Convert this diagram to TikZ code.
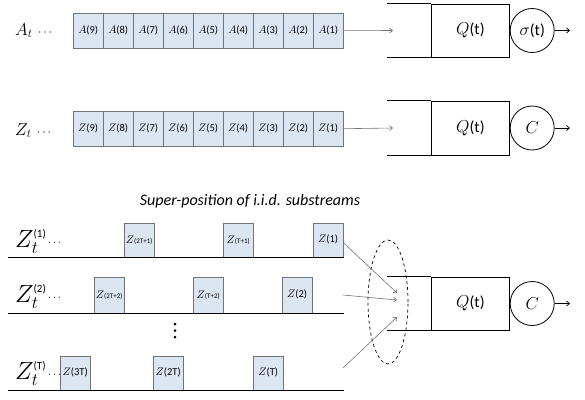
\documentclass[tikz,border=0pt]{standalone}
\usepackage{fontspec}
\setsansfont{Carlito}
\usetikzlibrary{arrows.meta,shapes.geometric}
\definecolor{cellblue}{HTML}{DCE6F2}
\definecolor{cellline}{HTML}{737373}
\begin{document}
\begin{tikzpicture}[x=1pt,y=-1pt,
  cell/.style={draw=cellline, fill=cellblue, minimum width=30pt, minimum height=35pt, inner sep=0pt, font=\sffamily\fontsize{10.5}{11}\selectfont},
  scell/.style={cell, minimum height=34pt, anchor=south west},
  feed/.style={draw=black!55, line width=0.6pt, -{Straight Barb[length=3pt,width=5pt]}},
  outarr/.style={draw=black, line width=0.7pt, -{Straight Barb[length=3pt,width=5pt]}},
  qbox/.style={draw=black, line width=0.8pt, minimum width=78pt, inner sep=0pt, font=\sffamily\fontsize{16}{17}\selectfont},
  server/.style={draw=black, line width=0.8pt, circle, minimum size=44pt, inner sep=0pt, font=\sffamily\fontsize{16}{17}\selectfont},
  lbl/.style={anchor=base west, inner sep=0pt}
]
\useasboundingbox (0,0) rectangle (585,399);

% ---------- Row A ----------
\node[lbl] (la) at (15,35) {\fontsize{18}{18}\selectfont$A_t$\ {\fontsize{12}{12}\selectfont$\cdots$}};
\foreach \i in {1,...,9} {
  \node[cell, anchor=north west] (a\i) at ({343-30*\i},13) {$A$(\i)};
}
\node[qbox, minimum height=53pt, anchor=west] (q1) at (431,30.5) {$Q$(t)};
\draw[line width=0.8pt] (q1.north west) -- ++(-44,0);
\draw[line width=0.8pt] (q1.south west) -- ++(-44,0);
\coordinate (in1) at (393,30.5);
\draw[feed] (a1.east) -- (in1);
\node[server, anchor=west] (s1) at (q1.east) {$\sigma$(t)};
\coordinate (o1) at (570,30.5);
\draw[outarr] (s1.east) -- (o1);

% ---------- Row Z ----------
\node[lbl] (lz) at (15,135) {\fontsize{18}{18}\selectfont$Z_t$\ {\fontsize{12}{12}\selectfont$\cdots$}};
\foreach \i in {1,...,9} {
  \node[cell, anchor=north west] (z\i) at ({343-30*\i},111) {$Z$(\i)};
}
\node[qbox, minimum height=54pt, anchor=west] (q2) at (431,128) {$Q$(t)};
\draw[line width=0.8pt] (q2.north west) -- ++(-44,0);
\draw[line width=0.8pt] (q2.south west) -- ++(-44,0);
\coordinate (in2) at (393,128);
\draw[feed] (z1.east) -- (in2);
\node[server, anchor=west] (s2) at (q2.east) {$C$};
\coordinate (o2) at (570,128);
\draw[outarr] (s2.east) -- (o2);

% ---------- Super-position ----------
\node[font=\sffamily\itshape\fontsize{16}{17}\selectfont] (title) at (250,201) {Super-position of i.i.d. substreams};

% row 1
\node[lbl] (l1) at (15,247) {\fontsize{23}{23}\selectfont$Z_t^{\textsf{\fontsize{11}{11}\selectfont(1)}}$};
\node[lbl] (d1) at (48,245) {\fontsize{11}{11}\selectfont$\cdots$};
\node[scell] (r1a) at (124,257) {$Z${\fontsize{7}{7}\selectfont(2T+1)}};
\node[scell] (r1b) at (223,257) {$Z${\fontsize{7}{7}\selectfont(T+1)}};
\node[scell] (r1c) at (313,257) {$Z$(1)};
\draw[line width=0.9pt] (8,257) -- (344,257);

% row 2
\node[lbl] (l2) at (15,302) {\fontsize{23}{23}\selectfont$Z_t^{\textsf{\fontsize{11}{11}\selectfont(2)}}$};
\node[lbl] (d2) at (48,300) {\fontsize{11}{11}\selectfont$\cdots$};
\node[scell, minimum height=36pt] (r2a) at (94,313) {$Z${\fontsize{7}{7}\selectfont(2T+2)}};
\node[scell, minimum height=36pt] (r2b) at (193,313) {$Z${\fontsize{7}{7}\selectfont(T+2)}};
\node[scell, minimum height=36pt] (r2c) at (282,313) {$Z$(2)};
\draw[line width=0.9pt] (8,313) -- (344,313);

% vertical dots
\fill (175,324) circle (1.5pt);
\fill (175,330.5) circle (1.5pt);
\fill (175,337) circle (1.5pt);

% row T
\node[lbl] (l3) at (15,379) {\fontsize{23}{23}\selectfont$Z_t^{\textsf{\fontsize{11}{11}\selectfont(T)}}$};
\node[lbl] (d3) at (48,377) {\fontsize{11}{11}\selectfont$\cdots$};
\node[scell] (r3a) at (60,390) {$Z$(3T)};
\node[scell] (r3b) at (153,390) {$Z$(2T)};
\node[scell] (r3c) at (253,390) {$Z$(T)};
\draw[line width=0.9pt] (8,390) -- (344,390);

% queue 3
\node[qbox, minimum height=53pt, anchor=west] (q3) at (431,303.5) {$Q$(t)};
\draw[line width=0.8pt] (q3.north west) -- ++(-44,0);
\draw[line width=0.8pt] (q3.south west) -- ++(-44,0);
\node[server, anchor=west] (s3) at (q3.east) {$C$};
\coordinate (o3) at (570,303.5);
\draw[outarr] (s3.east) -- (o3);

% ellipse
\node[draw=black, dashed, line width=0.7pt, ellipse, minimum width=40pt, minimum height=124pt, inner sep=0pt] (ell) at (388,302) {};

% feeds
\coordinate (e1) at (397,293);
\coordinate (e2) at (397,300);
\coordinate (e3) at (397,317);
\coordinate (f2) at (343,295);
\coordinate (f3) at (343,368);
\draw[feed] ([yshift=-3pt]r1c.east) -- (e1);
\draw[feed] (f2) -- (e2);
\draw[feed] (f3) -- (e3);
\end{tikzpicture}
\end{document}
